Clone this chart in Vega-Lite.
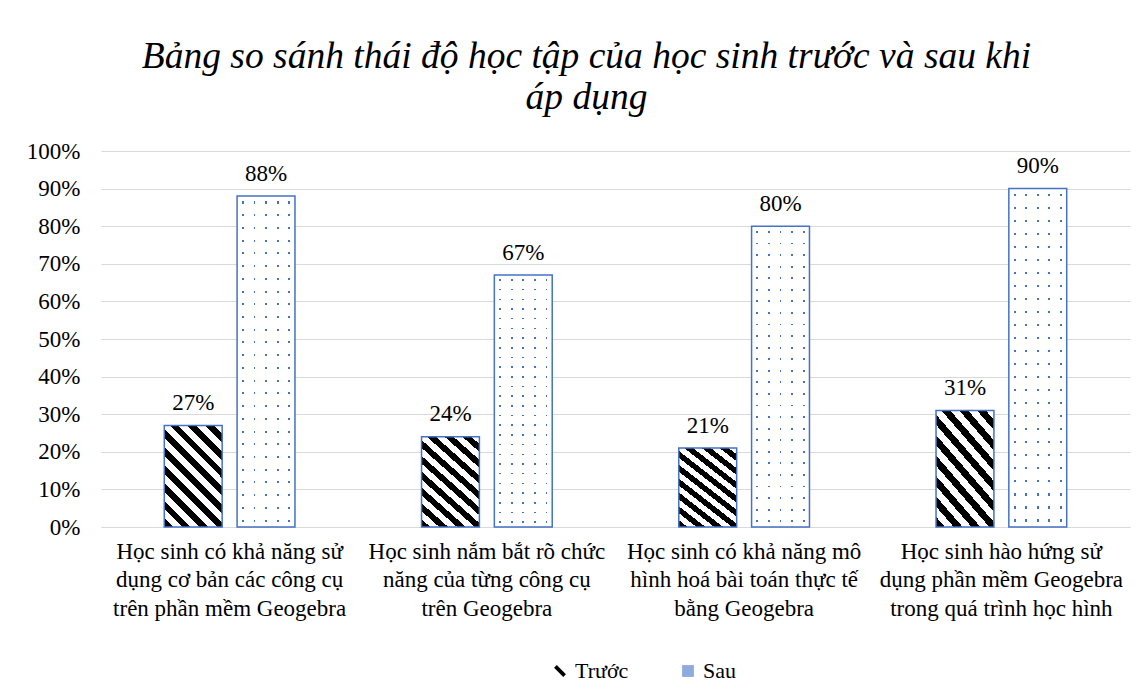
{
  "$schema": "https://vega.github.io/schema/vega-lite/v6.json",
  "width": 1029,
  "height": 376,
  "autosize": {"type": "none"},
  "padding": {"left": 101, "top": 151, "right": 17, "bottom": 165},
  "background": "white",
  "title": {
    "text": ["Bảng so sánh thái độ học tập của học sinh trước và sau khi", "áp dụng"],
    "font": "Liberation Serif, Times New Roman, serif", "fontStyle": "italic", "fontWeight": "normal",
    "fontSize": 37.5, "lineHeight": 41, "color": "#000000",
    "anchor": "middle", "frame": "group", "dx": -29, "offset": 24
  },
  "data": {
    "values": [
      {"category": "Học sinh có khả năng sử|dụng cơ bản các công cụ|trên phần mềm Geogebra", "series": "Trước", "value": 0.27},
      {"category": "Học sinh có khả năng sử|dụng cơ bản các công cụ|trên phần mềm Geogebra", "series": "Sau", "value": 0.88},
      {"category": "Học sinh nắm bắt rõ chức|năng của từng công cụ|trên Geogebra", "series": "Trước", "value": 0.24},
      {"category": "Học sinh nắm bắt rõ chức|năng của từng công cụ|trên Geogebra", "series": "Sau", "value": 0.67},
      {"category": "Học sinh có khả năng mô|hình hoá bài toán thực tế|bằng Geogebra", "series": "Trước", "value": 0.21},
      {"category": "Học sinh có khả năng mô|hình hoá bài toán thực tế|bằng Geogebra", "series": "Sau", "value": 0.80},
      {"category": "Học sinh hào hứng sử|dụng phần mềm Geogebra|trong quá trình học hình", "series": "Trước", "value": 0.31},
      {"category": "Học sinh hào hứng sử|dụng phần mềm Geogebra|trong quá trình học hình", "series": "Sau", "value": 0.90}
    ]
  },
  "encoding": {
    "x": {
      "field": "category", "type": "nominal", "sort": null,
      "scale": {"paddingInner": 0.492, "paddingOuter": 0.246},
      "axis": {
        "title": null, "labelAngle": 0, "labelExpr": "split(datum.label, '|')",
        "labelFont": "Liberation Serif, Times New Roman, serif", "labelFontSize": 23, "labelColor": "#000000",
        "labelLineHeight": 28.5, "labelBaseline": "top", "labelPadding": 13,
        "labelLimit": 400, "labelOverlap": false, "ticks": false,
        "domainColor": "#d9d9d9", "domainWidth": 1
      }
    },
    "xOffset": {
      "field": "series", "type": "nominal",
      "scale": {"domain": ["Trước", "Sau"], "paddingInner": 0.205, "paddingOuter": 0}
    },
    "y": {
      "field": "value", "type": "quantitative",
      "scale": {"domain": [0, 1]},
      "axis": {
        "title": null, "values": [0, 0.1, 0.2, 0.3, 0.4, 0.5, 0.6, 0.7, 0.8, 0.9, 1],
        "format": ".0%", "labelFont": "Liberation Serif, Times New Roman, serif", "labelFontSize": 23,
        "labelColor": "#000000", "labelPadding": 21, "ticks": false, "domain": false,
        "gridColor": "#d9d9d9", "gridWidth": 1
      }
    }
  },
  "layer": [
    {
      "transform": [{"filter": "datum.series === 'Trước'"}],
      "mark": {
        "type": "bar", "stroke": "#4472C4", "strokeWidth": 1.5,
        "fill": {
          "gradient": "linear", "x1": 0, "y1": 1, "x2": 0.68, "y2": -0.19,
          "stops": [
            {"offset": 0, "color": "#000000"}, {"offset": 0.0556, "color": "#000000"},
            {"offset": 0.0556, "color": "#ffffff"}, {"offset": 0.1111, "color": "#ffffff"},
            {"offset": 0.1111, "color": "#000000"}, {"offset": 0.1667, "color": "#000000"},
            {"offset": 0.1667, "color": "#ffffff"}, {"offset": 0.2222, "color": "#ffffff"},
            {"offset": 0.2222, "color": "#000000"}, {"offset": 0.2778, "color": "#000000"},
            {"offset": 0.2778, "color": "#ffffff"}, {"offset": 0.3333, "color": "#ffffff"},
            {"offset": 0.3333, "color": "#000000"}, {"offset": 0.3889, "color": "#000000"},
            {"offset": 0.3889, "color": "#ffffff"}, {"offset": 0.4444, "color": "#ffffff"},
            {"offset": 0.4444, "color": "#000000"}, {"offset": 0.5, "color": "#000000"},
            {"offset": 0.5, "color": "#ffffff"}, {"offset": 0.5556, "color": "#ffffff"},
            {"offset": 0.5556, "color": "#000000"}, {"offset": 0.6111, "color": "#000000"},
            {"offset": 0.6111, "color": "#ffffff"}, {"offset": 0.6667, "color": "#ffffff"},
            {"offset": 0.6667, "color": "#000000"}, {"offset": 0.7222, "color": "#000000"},
            {"offset": 0.7222, "color": "#ffffff"}, {"offset": 0.7778, "color": "#ffffff"},
            {"offset": 0.7778, "color": "#000000"}, {"offset": 0.8333, "color": "#000000"},
            {"offset": 0.8333, "color": "#ffffff"}, {"offset": 0.8889, "color": "#ffffff"},
            {"offset": 0.8889, "color": "#000000"}, {"offset": 0.9444, "color": "#000000"},
            {"offset": 0.9444, "color": "#ffffff"}, {"offset": 1, "color": "#ffffff"}
          ]
        }
      }
    },
    {
      "transform": [{"filter": "datum.series === 'Sau'"}],
      "mark": {
        "type": "bar", "strokeWidth": 0,
        "fill": {
          "gradient": "linear", "x1": 0, "y1": 0, "x2": 0, "y2": 1,
          "stops": [
            {"offset": 0, "color": "#ffffff"},
            {"offset": 0.01615, "color": "#ffffff"}, {"offset": 0.01615, "color": "#4472C4"}, {"offset": 0.02231, "color": "#4472C4"}, {"offset": 0.02231, "color": "#ffffff"},
            {"offset": 0.05462, "color": "#ffffff"}, {"offset": 0.05462, "color": "#4472C4"}, {"offset": 0.06077, "color": "#4472C4"}, {"offset": 0.06077, "color": "#ffffff"},
            {"offset": 0.09308, "color": "#ffffff"}, {"offset": 0.09308, "color": "#4472C4"}, {"offset": 0.09923, "color": "#4472C4"}, {"offset": 0.09923, "color": "#ffffff"},
            {"offset": 0.13154, "color": "#ffffff"}, {"offset": 0.13154, "color": "#4472C4"}, {"offset": 0.13769, "color": "#4472C4"}, {"offset": 0.13769, "color": "#ffffff"},
            {"offset": 0.17, "color": "#ffffff"}, {"offset": 0.17, "color": "#4472C4"}, {"offset": 0.17615, "color": "#4472C4"}, {"offset": 0.17615, "color": "#ffffff"},
            {"offset": 0.20846, "color": "#ffffff"}, {"offset": 0.20846, "color": "#4472C4"}, {"offset": 0.21462, "color": "#4472C4"}, {"offset": 0.21462, "color": "#ffffff"},
            {"offset": 0.24692, "color": "#ffffff"}, {"offset": 0.24692, "color": "#4472C4"}, {"offset": 0.25308, "color": "#4472C4"}, {"offset": 0.25308, "color": "#ffffff"},
            {"offset": 0.28538, "color": "#ffffff"}, {"offset": 0.28538, "color": "#4472C4"}, {"offset": 0.29154, "color": "#4472C4"}, {"offset": 0.29154, "color": "#ffffff"},
            {"offset": 0.32385, "color": "#ffffff"}, {"offset": 0.32385, "color": "#4472C4"}, {"offset": 0.33, "color": "#4472C4"}, {"offset": 0.33, "color": "#ffffff"},
            {"offset": 0.36231, "color": "#ffffff"}, {"offset": 0.36231, "color": "#4472C4"}, {"offset": 0.36846, "color": "#4472C4"}, {"offset": 0.36846, "color": "#ffffff"},
            {"offset": 0.40077, "color": "#ffffff"}, {"offset": 0.40077, "color": "#4472C4"}, {"offset": 0.40692, "color": "#4472C4"}, {"offset": 0.40692, "color": "#ffffff"},
            {"offset": 0.43923, "color": "#ffffff"}, {"offset": 0.43923, "color": "#4472C4"}, {"offset": 0.44538, "color": "#4472C4"}, {"offset": 0.44538, "color": "#ffffff"},
            {"offset": 0.47769, "color": "#ffffff"}, {"offset": 0.47769, "color": "#4472C4"}, {"offset": 0.48385, "color": "#4472C4"}, {"offset": 0.48385, "color": "#ffffff"},
            {"offset": 0.51615, "color": "#ffffff"}, {"offset": 0.51615, "color": "#4472C4"}, {"offset": 0.52231, "color": "#4472C4"}, {"offset": 0.52231, "color": "#ffffff"},
            {"offset": 0.55462, "color": "#ffffff"}, {"offset": 0.55462, "color": "#4472C4"}, {"offset": 0.56077, "color": "#4472C4"}, {"offset": 0.56077, "color": "#ffffff"},
            {"offset": 0.59308, "color": "#ffffff"}, {"offset": 0.59308, "color": "#4472C4"}, {"offset": 0.59923, "color": "#4472C4"}, {"offset": 0.59923, "color": "#ffffff"},
            {"offset": 0.63154, "color": "#ffffff"}, {"offset": 0.63154, "color": "#4472C4"}, {"offset": 0.63769, "color": "#4472C4"}, {"offset": 0.63769, "color": "#ffffff"},
            {"offset": 0.67, "color": "#ffffff"}, {"offset": 0.67, "color": "#4472C4"}, {"offset": 0.67615, "color": "#4472C4"}, {"offset": 0.67615, "color": "#ffffff"},
            {"offset": 0.70846, "color": "#ffffff"}, {"offset": 0.70846, "color": "#4472C4"}, {"offset": 0.71462, "color": "#4472C4"}, {"offset": 0.71462, "color": "#ffffff"},
            {"offset": 0.74692, "color": "#ffffff"}, {"offset": 0.74692, "color": "#4472C4"}, {"offset": 0.75308, "color": "#4472C4"}, {"offset": 0.75308, "color": "#ffffff"},
            {"offset": 0.78538, "color": "#ffffff"}, {"offset": 0.78538, "color": "#4472C4"}, {"offset": 0.79154, "color": "#4472C4"}, {"offset": 0.79154, "color": "#ffffff"},
            {"offset": 0.82385, "color": "#ffffff"}, {"offset": 0.82385, "color": "#4472C4"}, {"offset": 0.83, "color": "#4472C4"}, {"offset": 0.83, "color": "#ffffff"},
            {"offset": 0.86231, "color": "#ffffff"}, {"offset": 0.86231, "color": "#4472C4"}, {"offset": 0.86846, "color": "#4472C4"}, {"offset": 0.86846, "color": "#ffffff"},
            {"offset": 0.90077, "color": "#ffffff"}, {"offset": 0.90077, "color": "#4472C4"}, {"offset": 0.90692, "color": "#4472C4"}, {"offset": 0.90692, "color": "#ffffff"},
            {"offset": 0.93923, "color": "#ffffff"}, {"offset": 0.93923, "color": "#4472C4"}, {"offset": 0.94538, "color": "#4472C4"}, {"offset": 0.94538, "color": "#ffffff"},
            {"offset": 0.97769, "color": "#ffffff"}, {"offset": 0.97769, "color": "#4472C4"}, {"offset": 0.98385, "color": "#4472C4"}, {"offset": 0.98385, "color": "#ffffff"},
            {"offset": 1, "color": "#ffffff"}
          ]
        }
      }
    },
    {
      "transform": [{"filter": "datum.series === 'Sau'"}],
      "mark": {
        "type": "bar", "stroke": "#4472C4", "strokeWidth": 1.5,
        "fill": {
          "gradient": "linear", "x1": 0, "y1": 0, "x2": 1, "y2": 0,
          "stops": [
            {"offset": 0, "color": "#ffffff"},
            {"offset": 0.084, "color": "#ffffff"}, {"offset": 0.084, "color": "rgba(255,255,255,0)"}, {"offset": 0.116, "color": "rgba(255,255,255,0)"}, {"offset": 0.116, "color": "#ffffff"},
            {"offset": 0.284, "color": "#ffffff"}, {"offset": 0.284, "color": "rgba(255,255,255,0)"}, {"offset": 0.316, "color": "rgba(255,255,255,0)"}, {"offset": 0.316, "color": "#ffffff"},
            {"offset": 0.484, "color": "#ffffff"}, {"offset": 0.484, "color": "rgba(255,255,255,0)"}, {"offset": 0.516, "color": "rgba(255,255,255,0)"}, {"offset": 0.516, "color": "#ffffff"},
            {"offset": 0.684, "color": "#ffffff"}, {"offset": 0.684, "color": "rgba(255,255,255,0)"}, {"offset": 0.716, "color": "rgba(255,255,255,0)"}, {"offset": 0.716, "color": "#ffffff"},
            {"offset": 0.884, "color": "#ffffff"}, {"offset": 0.884, "color": "rgba(255,255,255,0)"}, {"offset": 0.916, "color": "rgba(255,255,255,0)"}, {"offset": 0.916, "color": "#ffffff"},
            {"offset": 1, "color": "#ffffff"}
          ]
        }
      }
    },
    {
      "mark": {"type": "text", "baseline": "alphabetic", "dy": -15.5, "font": "Liberation Serif, Times New Roman, serif", "fontSize": 23, "color": "#000000"},
      "encoding": {
        "text": {"field": "value", "type": "quantitative", "format": ".0%"}
      }
    },
    {
      "mark": {"type": "point", "filled": true, "opacity": 0},
      "encoding": {
        "fill": {
          "field": "series", "type": "nominal",
          "scale": {"domain": ["Trước", "Sau"], "range": ["#000000", "#8FAADC"]},
          "legend": {
            "orient": "none", "legendX": 448, "legendY": 509, "direction": "horizontal",
            "title": null, "labelFont": "Liberation Serif, Times New Roman, serif", "labelFontSize": 22,
            "labelColor": "#000000", "symbolSize": 140, "symbolOpacity": 1,
            "symbolStrokeWidth": 0, "columnPadding": 48
          }
        },
        "shape": {
          "field": "series", "type": "nominal",
          "scale": {"domain": ["Trước", "Sau"], "range": ["M -1 -0.55 L -0.55 -1 L 1 0.55 L 0.55 1 Z", "square"]},
          "legend": {
            "orient": "none", "legendX": 448, "legendY": 509, "direction": "horizontal",
            "title": null, "labelFont": "Liberation Serif, Times New Roman, serif", "labelFontSize": 22,
            "labelColor": "#000000", "symbolSize": 140, "symbolOpacity": 1,
            "symbolStrokeWidth": 0, "columnPadding": 48
          }
        }
      }
    }
  ],
  "config": {
    "view": {"stroke": null}
  }
}
